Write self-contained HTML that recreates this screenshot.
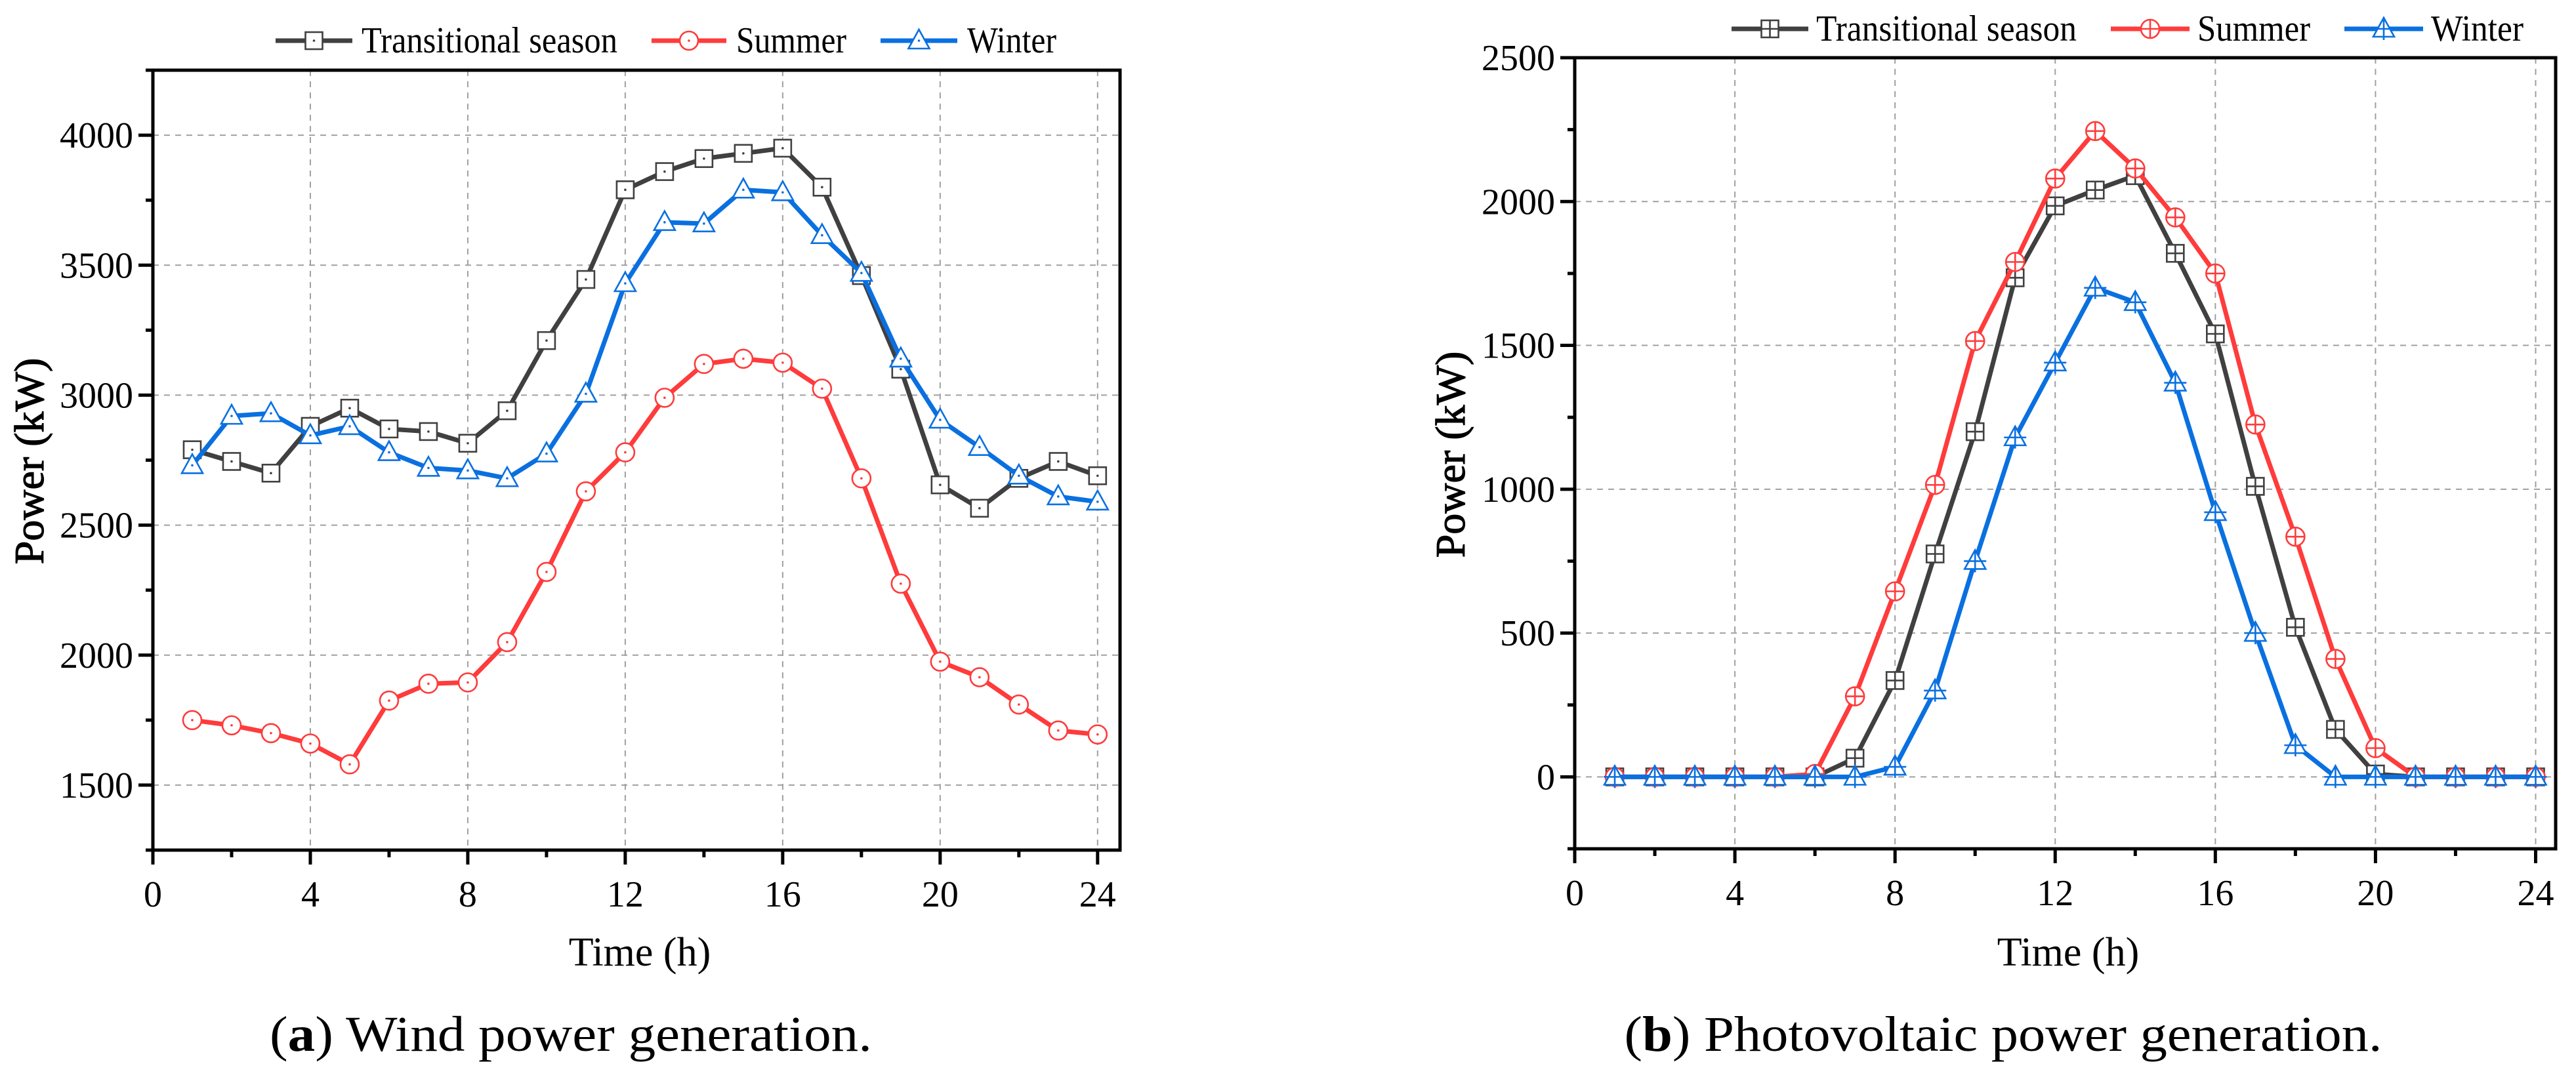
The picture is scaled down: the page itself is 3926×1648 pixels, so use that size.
<!DOCTYPE html>
<html><head><meta charset="utf-8"><style>
html,body{margin:0;padding:0;background:#fff;}
svg, svg text{font-family:"Liberation Serif","DejaVu Serif",serif;}
</style></head><body>
<svg id="fig" width="3926" height="1643" viewBox="0 0 3926 1643" xmlns="http://www.w3.org/2000/svg" font-family="Liberation Serif, serif">
<g id="chartA"></g>
<g id="chartB"></g>
<text x="870" y="1602" font-size="76" text-anchor="middle" textLength="918" lengthAdjust="spacingAndGlyphs">(<tspan font-weight="bold">a</tspan>) Wind power generation.</text>
<text x="3053" y="1602" font-size="76" text-anchor="middle" textLength="1155" lengthAdjust="spacingAndGlyphs">(<tspan font-weight="bold">b</tspan>) Photovoltaic power generation.</text>
</svg>
<script>
const hours = [1,2,3,4,5,6,7,8,9,10,11,12,13,14,15,16,17,18,19,20,21,22,23,24];
const windTransitional = [2790,2745,2700,2880,2950,2870,2860,2815,2940,3210,3445,3790,3860,3910,3930,3950,3800,3460,3100,2655,2565,2680,2745,2690];
const windSummer = [1750,1730,1700,1660,1580,1825,1890,1895,2050,2320,2630,2780,2990,3120,3140,3125,3025,2680,2275,1975,1915,1810,1710,1695];
const windWinter = [2730,2920,2930,2845,2880,2780,2720,2710,2680,2775,3005,3430,3665,3660,3790,3780,3615,3470,3140,2905,2800,2690,2610,2590];
const pvTransitional = [0,0,0,0,0,0,65,335,775,1200,1735,1985,2040,2090,1820,1540,1010,520,165,10,0,0,0,0];
const pvSummer = [0,0,0,0,0,10,280,645,1015,1515,1790,2080,2245,2115,1945,1750,1225,835,410,100,0,0,0,0];
const pvWinter = [0,0,0,0,0,0,0,35,300,750,1180,1440,1700,1650,1370,920,500,110,0,0,0,0,0,0];
const xTicks = [0,4,8,12,16,20,24];
const yTicksA = [1500,2000,2500,3000,3500,4000];
const yTicksB = [0,500,1000,1500,2000,2500];
const seriesNames = ["Transitional season","Summer","Winter"];

const NS="http://www.w3.org/2000/svg";
const COLORS=["#404040","#ff3b3b","#0a70e0"];
const FF="Liberation Serif, serif";
function mk(parent,tag,attrs){const e=document.createElementNS(NS,tag);for(const k in attrs)e.setAttribute(k,attrs[k]);parent.appendChild(e);return e;}

function marker(g,kind,cx,cy,color,cross,name){
  const m=mk(g,'g',{});
  
  
  const sw=2.6;
  if(kind===0){
    mk(m,'rect',{x:cx-13,y:cy-13,width:26,height:26,fill:'#fff',stroke:color,'stroke-width':sw});
  }else if(kind===1){
    mk(m,'circle',{cx:cx,cy:cy,r:14,fill:'#fff',stroke:color,'stroke-width':sw});
  }else{
    mk(m,'path',{d:`M${cx} ${cy-17} L${cx+16} ${cy+12} L${cx-16} ${cy+12} Z`,fill:'#fff',stroke:color,'stroke-width':sw});
  }
  if(cross){
    const e = kind===2?17:14;
    mk(m,'path',{d:`M${cx-e} ${cy}H${cx+e}M${cx} ${cy-e}V${cy+e}`,stroke:color,'stroke-width':sw,fill:'none'});
  }else{
    mk(m,'circle',{cx:cx,cy:cy,r:1.8,fill:color});
  }
}

function drawChart(g,opt){
  const {L,R,T,B,xmax,ymin,ymax,yTicks,minorStep,data,cross,legend,ylab,xlab}=opt;
  const sx=v=>L+(v-0)/(xmax)*(R-L);
  const sy=v=>B-(v-ymin)/(ymax-ymin)*(B-T);
  const grid=mk(g,'g',{stroke:'#a0a0a0','stroke-width':2,'stroke-dasharray':'9 8',fill:'none'});
  
  
  xTicks.forEach(t=>{if(t>0) mk(grid,'line',{x1:sx(t),x2:sx(t),y1:T,y2:B});});
  yTicks.forEach(t=>{mk(grid,'line',{x1:L,x2:R,y1:sy(t),y2:sy(t)});});
  data.forEach((ser,si)=>{
    const sg=mk(g,'g',{});
    
    
    const d=hours.map((h,i)=>(i?'L':'M')+sx(h)+' '+sy(ser[i])).join('');
    const ln=mk(sg,'path',{d:d,fill:'none',stroke:COLORS[si],'stroke-width':7,'stroke-linejoin':'round'});
    
    
    hours.forEach((h,i)=>marker(sg,si,sx(h),sy(ser[i]),COLORS[si],cross,'point'));
  });
  const ax=mk(g,'g',{stroke:'#000','stroke-width':5,fill:'none'});
  
  
  mk(ax,'rect',{x:L,y:T,width:R-L,height:B-T});
  for(let t=0;t<=24;t+=2){
    const major=t%4===0;
    mk(ax,'line',{x1:sx(t),x2:sx(t),y1:B,y2:B+(major?22:11)});
  }
  for(let v=yTicks[0]-minorStep;v<=ymax;v+=minorStep){
    if(v<ymin) continue;
    const major=yTicks.includes(v);
    mk(ax,'line',{x1:L,x2:L-(major?22:11),y1:sy(v),y2:sy(v)});
  }
  xTicks.forEach(t=>{
    const tx=mk(g,'text',{x:sx(t),y:B+86,'font-size':56,'text-anchor':'middle','font-family':FF});
    tx.textContent=t;
    
    
  });
  yTicks.forEach(t=>{
    const tx=mk(g,'text',{x:L-30,y:sy(t)+19,'font-size':56,'text-anchor':'end','font-family':FF});
    tx.textContent=t;
    
    
  });
  const xt=mk(g,'text',{x:xlab[0],y:xlab[1],'font-size':62,'text-anchor':'middle','font-family':FF});
  xt.textContent='Time (h)';
  
  
  const yt=mk(g,'text',{x:0,y:0,'font-size':64,'text-anchor':'middle','font-family':FF,stroke:'#000','stroke-width':1.2,transform:`translate(${ylab[0]},${ylab[1]}) rotate(-90)`});
  yt.textContent='Power (kW)';
  
  
  const lg=mk(g,'g',{});
  
  
  legend.items.forEach((it,si)=>{
    const eg=mk(lg,'g',{});
    
    
    mk(eg,'line',{x1:it[0],x2:it[1],y1:legend.y,y2:legend.y,stroke:COLORS[si],'stroke-width':7});
    marker(eg,si,(it[0]+it[1])/2,legend.y,COLORS[si],cross,'legend-marker');
    const tx=mk(eg,'text',{x:it[2],y:legend.y+18,'font-size':56,'font-family':FF,textLength:it[3],lengthAdjust:'spacingAndGlyphs'});
    tx.textContent=seriesNames[si];
  });
}

drawChart(document.getElementById('chartA'),{
  L:233,R:1707,T:107,B:1296,xmax:24.57,ymin:1250,ymax:4250,yTicks:yTicksA,minorStep:250,
  data:[windTransitional,windSummer,windWinter],cross:false,
  legend:{y:62,items:[[420,537,551,390],[993,1107,1122,168],[1342,1459,1474,136]]},
  ylab:[66,703],xlab:[975,1472]
});
drawChart(document.getElementById('chartB'),{
  L:2400,R:3895,T:88,B:1294,xmax:24.5,ymin:-250,ymax:2500,yTicks:yTicksB,minorStep:250,
  data:[pvTransitional,pvSummer,pvWinter],cross:true,
  legend:{y:44,items:[[2639,2756,2768,397],[3217,3337,3349,172],[3573,3693,3705,141]]},
  ylab:[2232,693],xlab:[3152,1472]
});
</script>
</body></html>
